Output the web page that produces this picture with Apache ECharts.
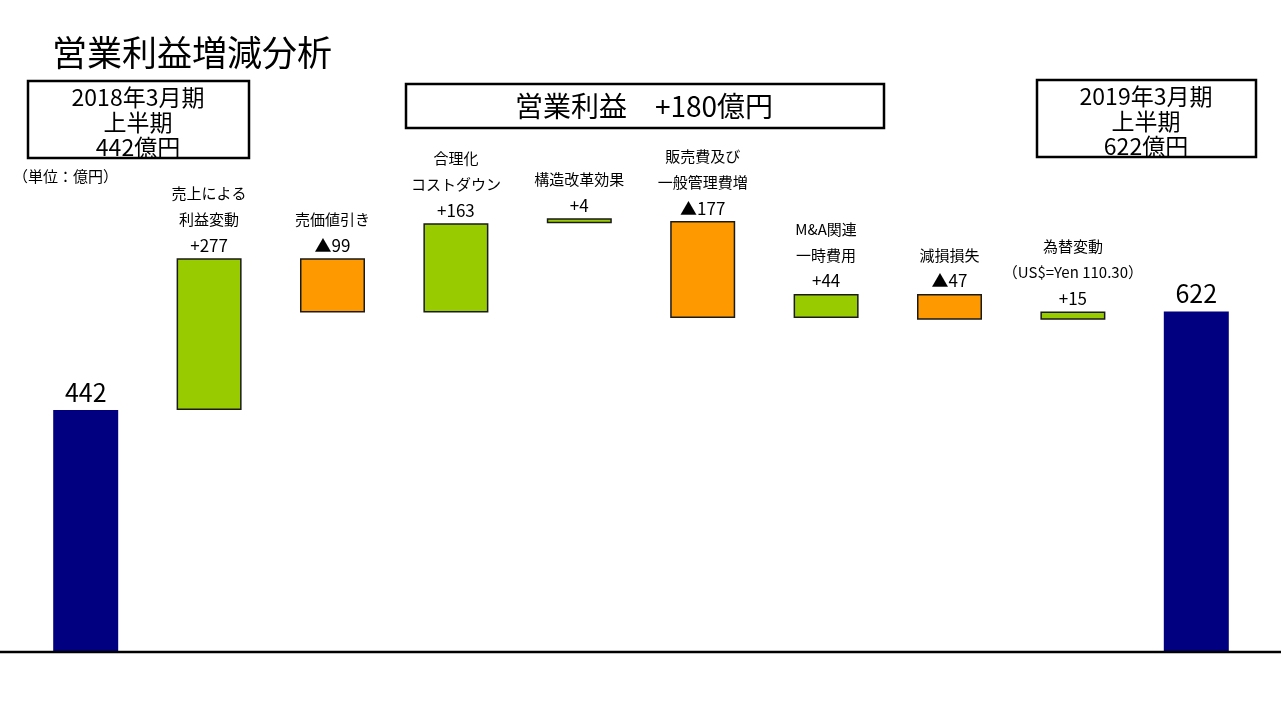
<!DOCTYPE html>
<html lang="ja">
<head>
    <meta charset="utf-8">
    <title>営業利益増減分析</title>
    <style>
        html, body { margin: 0; padding: 0; background: #fff; }
        #main { width: 1281px; height: 720px; }
    </style>
</head>
<body>

<div id="main"></div>

<script src="https://cdn.jsdelivr.net/npm/echarts@6/dist/echarts.min.js"></script>
<script>
    // 項目名（棒の上のラベル）
    var categories = ['2018年3月期上半期', '売上による\n利益変動', '売価値引き', '合理化\nコストダウン', '構造改革効果',
        '販売費及び\n一般管理費増', 'M&A関連\n一時費用', '減損損失', '為替変動\n（US$=Yen 110.30）', '2019年3月期上半期'];
    // 増減額（億円）、最初と最後は合計
    var deltas = [442, 277, -99, 163, 4, -177, 44, -47, 15, 622];
    var valueLabels = ['442', '+277', '▲99', '+163', '+4', '▲177', '+44', '▲47', '+15', '622'];
    var isTotal = [true, false, false, false, false, false, false, false, false, true];

    var FONT = '"Noto Sans CJK JP", "Noto Sans", sans-serif';

    // 透明な土台と見える棒を計算
    var baseData = [], barData = [];
    var running = 0;
    for (var i = 0; i < deltas.length; i++) {
        var d = deltas[i];
        var color;
        if (isTotal[i]) {
            baseData.push(0);
            barData.push(d);
            running = d;
            color = '#000080';
        } else if (d >= 0) {
            baseData.push(running);
            barData.push(d);
            running += d;
            color = '#99cc00';
        } else {
            running += d;
            baseData.push(running);
            barData.push(-d);
            color = '#ff9900';
        }
        barData[i] = {
            value: barData[i],
            itemStyle: isTotal[i] ? {color: color, borderWidth: 0} : {color: color, borderColor: '#1a1a1a', borderWidth: 1.5}
        };
    }

    var myChart = echarts.init(document.getElementById('main'));

    var option = {
        animation: false,
        backgroundColor: '#fff',
        title: {
            text: '営業利益増減分析',
            left: 47,
            top: 30,
            textStyle: {fontFamily: FONT, fontSize: 35, fontWeight: 'normal', color: '#000'}
        },
        grid: {left: 24, right: 23, top: 104.5, bottom: 68},
        xAxis: {
            type: 'category',
            data: categories,
            axisLine: {show: false},
            axisTick: {show: false},
            axisLabel: {show: false}
        },
        yAxis: {
            type: 'value',
            min: 0,
            max: 1000,
            show: false
        },
        series: [
            {
                name: 'base',
                type: 'bar',
                stack: 'w',
                barWidth: 65,
                itemStyle: {color: 'transparent'},
                data: baseData,
                silent: true
            },
            {
                name: 'value',
                type: 'bar',
                stack: 'w',
                barWidth: 65,
                barMinHeight: 5,
                data: barData,
                label: {
                    show: true,
                    position: 'top',
                    distance: 0,
                    fontFamily: FONT,
                    color: '#000',
                    formatter: function (p) {
                        var i = p.dataIndex;
                        if (isTotal[i]) {
                            return '{big|' + valueLabels[i] + '}';
                        }
                        var lines = categories[i].split('\n').map(function (s) {
                            return '{name|' + s + '}';
                        });
                        lines.push('{val|' + valueLabels[i] + '}');
                        return lines.join('\n');
                    },
                    rich: {
                        name: {fontFamily: FONT, fontSize: 15, lineHeight: 26, color: '#000'},
                        val: {fontFamily: FONT, fontSize: 17, lineHeight: 26, color: '#000'},
                        big: {fontFamily: FONT, fontSize: 25, lineHeight: 36, color: '#000'}
                    }
                }
            }
        ],
        graphic: [
            // 基線
            {type: 'line', shape: {x1: 0, y1: 652, x2: 1281, y2: 652}, style: {stroke: '#000', lineWidth: 2.5}, z: 10},
            // 左のボックス
            {type: 'rect', shape: {x: 28, y: 81, width: 221, height: 77}, style: {fill: '#fff', stroke: '#000', lineWidth: 2.5}},
            {
                type: 'text', x: 138, y: 122,
                style: {text: '2018年3月期\n上半期\n442億円', fontFamily: FONT, fontSize: 23, lineHeight: 25,
                    align: 'center', verticalAlign: 'middle', fill: '#000'}
            },
            // 中央のボックス
            {type: 'rect', shape: {x: 406, y: 84, width: 478, height: 44}, style: {fill: '#fff', stroke: '#000', lineWidth: 2.5}},
            {
                type: 'text', x: 644, y: 106,
                style: {text: '営業利益　+180億円', fontFamily: FONT, fontSize: 28,
                    align: 'center', verticalAlign: 'middle', fill: '#000'}
            },
            // 右のボックス
            {type: 'rect', shape: {x: 1037, y: 80, width: 219, height: 77}, style: {fill: '#fff', stroke: '#000', lineWidth: 2.5}},
            {
                type: 'text', x: 1146, y: 121,
                style: {text: '2019年3月期\n上半期\n622億円', fontFamily: FONT, fontSize: 23, lineHeight: 25,
                    align: 'center', verticalAlign: 'middle', fill: '#000'}
            },
            // 単位
            {
                type: 'text', x: 13, y: 176,
                style: {text: '（単位：億円）', fontFamily: FONT, fontSize: 15,
                    align: 'left', verticalAlign: 'middle', fill: '#000'}
            }
        ]
    };

    myChart.setOption(option);
</script>
</body>
</html>
